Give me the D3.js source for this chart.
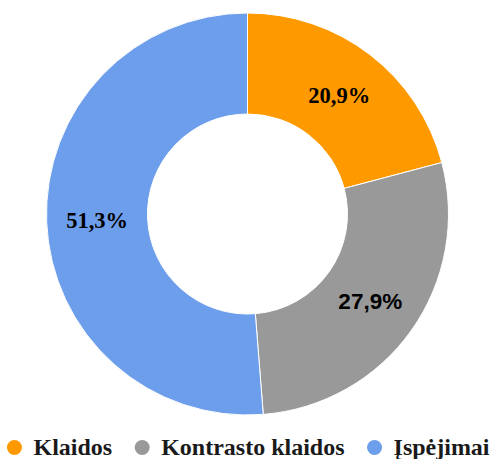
<html>
<head>
    <meta charset="utf-8">
    <script src="https://d3js.org/d3.v7.min.js"></script>
    <style>
        body { margin: 0; background: #fff; }
    </style>
</head>
<body>
<div id="my_dataviz"></div>
<script>
    // data
    const categories = ["Klaidos", "Kontrasto klaidos", "Įspėjimai"];
    const values = [20.9, 27.9, 51.3];
    const colors = ["#ff9900", "#999999", "#6d9eeb"];

    const serif = "'Liberation Serif', 'Times New Roman', Tinos, 'DejaVu Serif', serif";
    const sans = "'Liberation Sans', Arial, sans-serif";
    // the source mixes fonts on its labels
    const labelFonts = [serif, sans, serif];

    const width = 492, height = 459;
    const cx = 247.5, cy = 214, outerR = 201, innerR = 100;

    const data = categories.map((c, i) => ({name: c, value: values[i], color: colors[i], font: labelFonts[i]}));

    const svg = d3.select("#my_dataviz")
        .append("svg")
        .attr("width", width)
        .attr("height", height);

    const pie = d3.pie().sort(null).value(d => d.value);
    const arc = d3.arc().innerRadius(innerR).outerRadius(outerR);

    const g = svg.append("g")
        .attr("transform", "translate(" + cx + "," + cy + ")");

    const arcs = pie(data);

    g.selectAll("path")
        .data(arcs)
        .enter()
        .append("path")
        .attr("d", arc)
        .attr("fill", d => d.data.color)
        .attr("stroke", "#fff")
        .attr("stroke-width", 1);

    // percent labels at the slice centroids
    g.selectAll("text")
        .data(arcs)
        .enter()
        .append("text")
        .attr("transform", d => "translate(" + arc.centroid(d) + ")")
        .attr("text-anchor", "middle")
        .attr("dy", "0.36em")
        .attr("font-family", d => d.data.font)
        .attr("font-weight", "bold")
        .attr("font-size", "22.5px")
        .attr("fill", "#000")
        .text(d => d3.format(".1f")(d.data.value).replace(".", ",") + "%");

    // legend, centred under the chart
    const legend = svg.append("g");
    const items = legend.selectAll("g")
        .data(data)
        .enter()
        .append("g");

    items.append("circle")
        .attr("r", 7.5)
        .attr("cy", -7.5)
        .attr("fill", d => d.color);

    items.append("text")
        .attr("x", 19)
        .attr("font-family", serif)
        .attr("font-weight", "bold")
        .attr("font-size", "24px")
        .attr("fill", "#1a1a1a")
        .text(d => d.name);

    let x = 0;
    const gap = 30;
    items.each(function () {
        const w = d3.select(this).select("text").node().getComputedTextLength();
        d3.select(this).attr("transform", "translate(" + x + ",0)");
        x += 19 + w + gap;
    });
    const total = x - gap + 8;
    legend.attr("transform", "translate(" + (248 - total / 2 + 8) + ",455)");
</script>
</body>
</html>
